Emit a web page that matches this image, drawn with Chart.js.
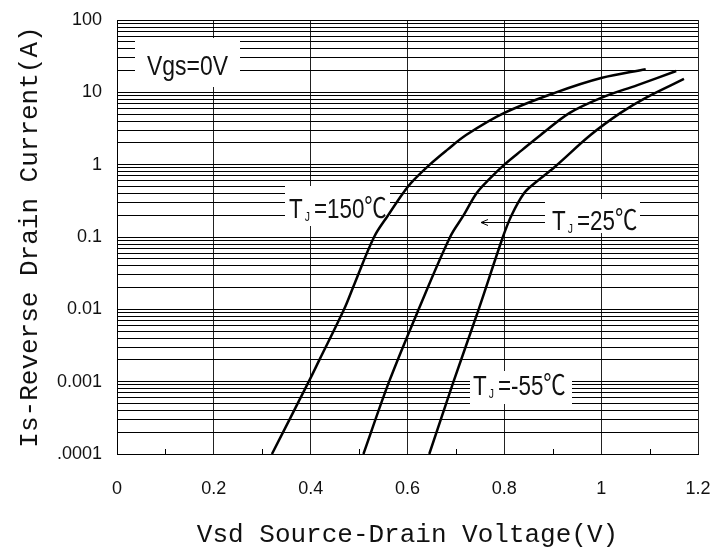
<!DOCTYPE html>
<html>
<head>
<meta charset="utf-8">
<script src="https://cdn.jsdelivr.net/npm/chart.js@4"></script>
<style>
html, body { margin: 0; padding: 0; background: #fff; }
#wrap { width: 721px; height: 549px; }
</style>
</head>
<body>
<div id="wrap"><canvas id="chart"></canvas></div>
<script>
// values (Vsd in V, Is in A)
const vsd150 = [0.32, 0.396, 0.418, 0.469, 0.491, 0.531, 0.56, 0.591, 0.607, 0.646, 0.682, 0.721, 0.8, 0.907, 1.0, 1.092];
const is150  = [0.0001, 0.001, 0.002, 0.01, 0.023, 0.1, 0.2, 0.405, 0.557, 1.0, 1.6, 2.57, 5.2, 10, 15.8, 20.9];
const vsd25 = [0.509, 0.562, 0.623, 0.688, 0.716, 0.743, 0.771, 0.8, 0.837, 0.875, 0.935, 1.0, 1.075, 1.155];
const is25  = [0.0001, 0.001, 0.01, 0.1, 0.2, 0.405, 0.65, 1.0, 1.6, 2.57, 5.2, 8.4, 12.6, 19.7];
const vsdM55 = [0.645, 0.695, 0.747, 0.797, 0.815, 0.841, 0.863, 0.904, 0.978, 1.04, 1.092, 1.171];
const isM55  = [0.0001, 0.001, 0.01, 0.1, 0.2, 0.405, 0.557, 0.93, 2.57, 5.2, 8.4, 15.3];

const xTicks = [0, 0.2, 0.4, 0.6, 0.8, 1.0, 1.2];
const xTickLabels = ['0', '0.2', '0.4', '0.6', '0.8', '1', '1.2'];
const xMinor = [0.1, 0.3, 0.5, 0.7, 0.9, 1.1];
const yDecades = [0.0001, 0.001, 0.01, 0.1, 1, 10, 100];
const yDecadeLabels = ['.0001', '0.001', '0.01', '0.1', '1', '10', '100'];

// every 1..9 line inside each decade
const yGrid = [];
yDecades.forEach((d, i) => {
  if (i === yDecades.length - 1) { yGrid.push(d); return; }
  for (let m = 1; m <= 9; m++) yGrid.push(d * m);
});

function pts(xs, ys) { return xs.map((x, i) => ({ x, y: ys[i] })); }

function curve(xs, ys) {
  return { data: pts(xs, ys), showLine: true, borderColor: '#000', borderWidth: 2.5, pointRadius: 0, fill: false, tension: 0.35 };
}

const SANS = '"Liberation Sans", Arial, "Noto Sans CJK SC", sans-serif';
const MONO = '"Liberation Mono", "DejaVu Sans Mono", monospace';

function squeezeText(ctx, text, x, y, size, sx) {
  ctx.save();
  ctx.font = size + 'px ' + SANS;
  ctx.translate(x, y);
  ctx.scale(sx, 1);
  ctx.fillText(text, 0, 0);
  const w = ctx.measureText(text).width * sx;
  ctx.restore();
  return w;
}

function tjLabel(ctx, x, y, rest) {
  let w = squeezeText(ctx, 'T', x, y, 28, 0.8);
  w += 2;
  w += squeezeText(ctx, 'J', x + w, y + 3, 13, 0.8);
  w += 4;
  squeezeText(ctx, rest, x + w, y, 28, 0.8);
}

function whiteBox(ctx, x, y, w, h) {
  ctx.fillStyle = '#fff';
  ctx.fillRect(x, y, w, h);
}

const notes = {
  id: 'notes',
  beforeDatasetsDraw(chart) {
    const ctx = chart.ctx;
    const xs = chart.scales.x;
    const area = chart.chartArea;

    // small minor ticks on the bottom edge
    ctx.save();
    ctx.strokeStyle = '#000';
    ctx.lineWidth = 1;
    xMinor.forEach(v => {
      const px = Math.round(xs.getPixelForValue(v)) + 0.5;
      ctx.beginPath();
      ctx.moveTo(px, area.bottom);
      ctx.lineTo(px, area.bottom - 5);
      ctx.stroke();
    });

    whiteBox(ctx, 135, 38, 105, 49);
    whiteBox(ctx, 285, 186, 105, 40);
    whiteBox(ctx, 545, 199, 95, 34);
    whiteBox(ctx, 470, 371, 102, 33);

    ctx.fillStyle = '#111';
    ctx.textBaseline = 'alphabetic';
    squeezeText(ctx, 'Vgs=0V', 147, 75, 27, 0.85);
    tjLabel(ctx, 289, 218, '=150℃');
    tjLabel(ctx, 552, 230, '=25℃');
    tjLabel(ctx, 473, 395, '=-55℃');

    // arrow pointing at the 25C curve
    ctx.strokeStyle = '#000';
    ctx.lineWidth = 1;
    ctx.beginPath();
    ctx.moveTo(545, 222.5);
    ctx.lineTo(481, 222.5);
    ctx.moveTo(488, 219.5);
    ctx.lineTo(481, 222.5);
    ctx.lineTo(488, 225.5);
    ctx.stroke();
    ctx.restore();
  }
};

new Chart(document.getElementById('chart'), {
  type: 'scatter',
  data: {
    datasets: [curve(vsd150, is150), curve(vsd25, is25), curve(vsdM55, isM55)]
  },
  options: {
    responsive: true,
    maintainAspectRatio: false,
    animation: false,
    layout: { padding: { top: 20, right: 23, left: 0, bottom: 0 } },
    plugins: { legend: { display: false }, tooltip: { enabled: false } },
    scales: {
      x: {
        type: 'linear', min: 0, max: 1.2,
        afterBuildTicks: s => { s.ticks = xTicks.map(v => ({ value: v })); },
        afterFit: s => { s.height = 95; s.paddingLeft = 0; s.paddingRight = 0; },
        grid: { color: '#222', lineWidth: 1, drawTicks: false },
        border: { color: '#000', width: 1 },
        ticks: {
          autoSkip: false, maxRotation: 0, padding: 24, color: '#111',
          font: { family: SANS, size: 18 },
          callback: (v, i) => xTickLabels[i]
        },
        title: {
          display: true, text: 'Vsd Source-Drain Voltage(V)', color: '#111',
          font: { family: MONO, size: 26, lineHeight: 1 },
          padding: { top: 0, bottom: 1 }
        }
      },
      y: {
        type: 'logarithmic', min: 0.0001, max: 100,
        afterBuildTicks: s => { s.ticks = yGrid.map(v => ({ value: v })); },
        afterFit: s => { s.width = 117; s.paddingTop = 0; s.paddingBottom = 0; },
        grid: { color: '#000', lineWidth: 1, drawTicks: false },
        border: { color: '#000', width: 1 },
        ticks: {
          autoSkip: false, padding: 15, color: '#111',
          font: { family: SANS, size: 18 },
          callback: v => {
            const i = yDecades.findIndex(d => Math.abs(d - v) / d < 1e-6);
            return i >= 0 ? yDecadeLabels[i] : '';
          }
        },
        title: {
          display: true, text: 'Is-Reverse Drain Current(A)', color: '#111',
          font: { family: MONO, size: 26, lineHeight: 1 },
          padding: { top: 17, bottom: 0 }
        }
      }
    }
  },
  plugins: [notes]
});
</script>
</body>
</html>
